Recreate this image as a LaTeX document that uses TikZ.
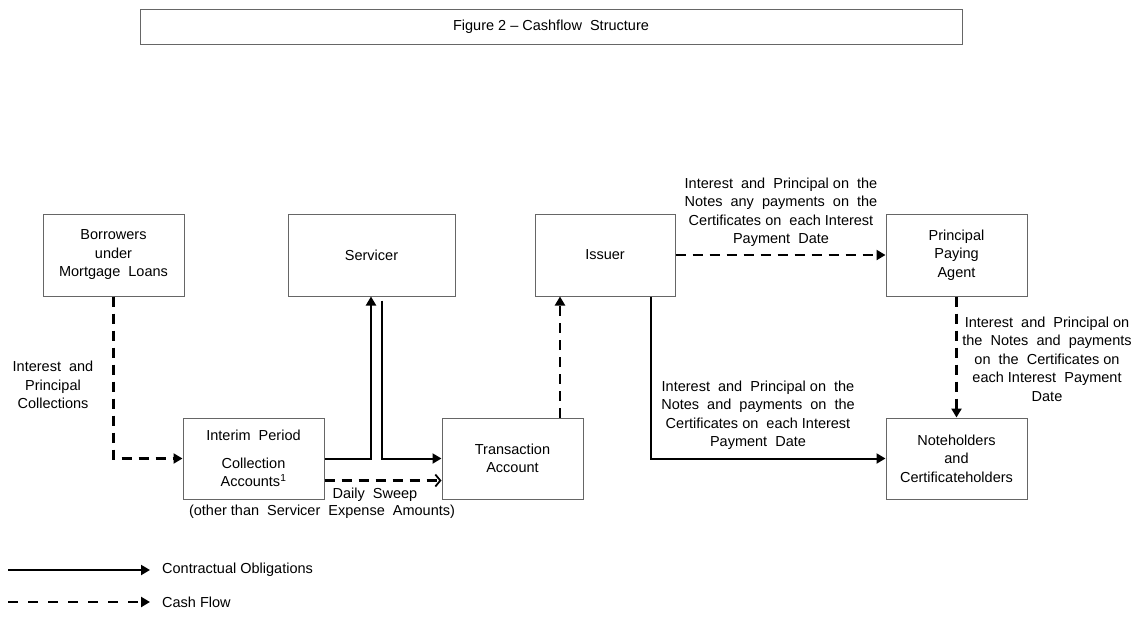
\documentclass[tikz,border=0pt]{standalone}
\usepackage{fontspec}
\setmainfont{Liberation Sans}
\usetikzlibrary{arrows.meta}
\begin{document}
\begin{tikzpicture}[x=1pt,y=-1pt,
  font=\fontsize{14.5}{18.5}\selectfont,
  box/.style={draw=black!60, line width=1pt, align=center, inner sep=2pt},
  lbl/.style={align=center, inner sep=0pt},
  solidarr/.style={line width=2pt, -{Triangle[length=9pt,width=10pt]}},
  dasharr/.style={line width=2.6pt, dash pattern=on 10pt off 7pt, -{Triangle[length=9pt,width=10pt]}},
  openarr/.style={line width=2.6pt, dash pattern=on 10pt off 7pt, -{Straight Barb[length=5pt,width=12pt,line width=1.8pt]}}]
\useasboundingbox (0,0) rectangle (1143,616);
\fill[white] (0,0) rectangle (1143,616);

\node[box, minimum width=822pt, minimum height=35pt] (title) at (551,26.5) {Figure 2 – Cashflow\ \ Structure};

\node[box, minimum width=141pt, minimum height=82pt] (bor) at (113.5,255) {Borrowers\\under\\Mortgage\ \ Loans};
\node[box, minimum width=167pt, minimum height=82pt] (ser) at (371.5,255) {Servicer};
\node[box, minimum width=140pt, minimum height=82pt] (iss) at (605,255) {Issuer};
\node[box, minimum width=141pt, minimum height=82pt] (ppa) at (956.5,255) {Principal\\Paying\\Agent};
\node[box, minimum width=141pt, minimum height=81pt] (int) at (253.5,458.5) {Interim\ \ Period\\[9pt]Collection\\Accounts\textsuperscript{1}};
\node[box, minimum width=141pt, minimum height=81pt] (tra) at (512.5,458.5) {Transaction\\Account};
\node[box, minimum width=141pt, minimum height=81pt] (not) at (956.5,458.5) {Noteholders\\and\\Certificateholders};

% connectors
\draw[dasharr] (bor.south) |- (int.west);
\draw[solidarr] (int.east) -| ([xshift=-0.5pt]ser.south);
\draw[solidarr] ([xshift=10.5pt,yshift=-4pt]ser.south) |- (tra.west);
\draw[openarr] ([yshift=-22pt]int.east) -- ([yshift=-22pt]tra.west);
\draw[dasharr] ([xshift=47.5pt]tra.north) -- ([xshift=47.5pt]tra.north |- iss.south);
\draw[solidarr] ([xshift=46pt]iss.south) |- (not.west);
\draw[dasharr] (iss.east) -- (ppa.west);
\draw[dasharr] (ppa.south) -- (not.north);

% labels
\node[lbl] (l1) at (53,385) {Interest\ \ and\\Principal\\Collections};
\node[lbl] (l2) at (781,212) {Interest\ \ and\ \ Principal on\ \ the\\Notes\ \ any\ \ payments\ \ on\ \ the\\Certificates on\ \ each Interest\\Payment\ \ Date};
\node[lbl] (l3) at (1047,359) {Interest\ \ and\ \ Principal on\\the\ \ Notes\ \ and\ \ payments\\on\ \ the\ \ Certificates on\\each Interest\ \ Payment\\Date};
\node[lbl] (l4) at (758,415) {Interest\ \ and\ \ Principal on\ \ the\\Notes\ \ and\ \ payments\ \ on\ \ the\\Certificates on\ \ each Interest\\Payment\ \ Date};
\node[lbl] (l5) at (375,495) {Daily\ \ Sweep};
\node[lbl] (l6) at (322,512) {(other than\ \ Servicer\ \ Expense\ \ Amounts)};

% legend
\coordinate (la1) at (8,570);
\coordinate (lb1) at (150,570);
\coordinate (la2) at (8,602);
\coordinate (lb2) at (150,602);
\draw[solidarr] (la1) -- (lb1);
\draw[dasharr, dash pattern=on 9.5pt off 10.5pt] (la2) -- (lb2);
\node[anchor=west, inner sep=0pt] (lt1) at (162,570) {Contractual Obligations};
\node[anchor=west, inner sep=0pt] (lt2) at (162,602) {Cash Flow};
\end{tikzpicture}
\end{document}
